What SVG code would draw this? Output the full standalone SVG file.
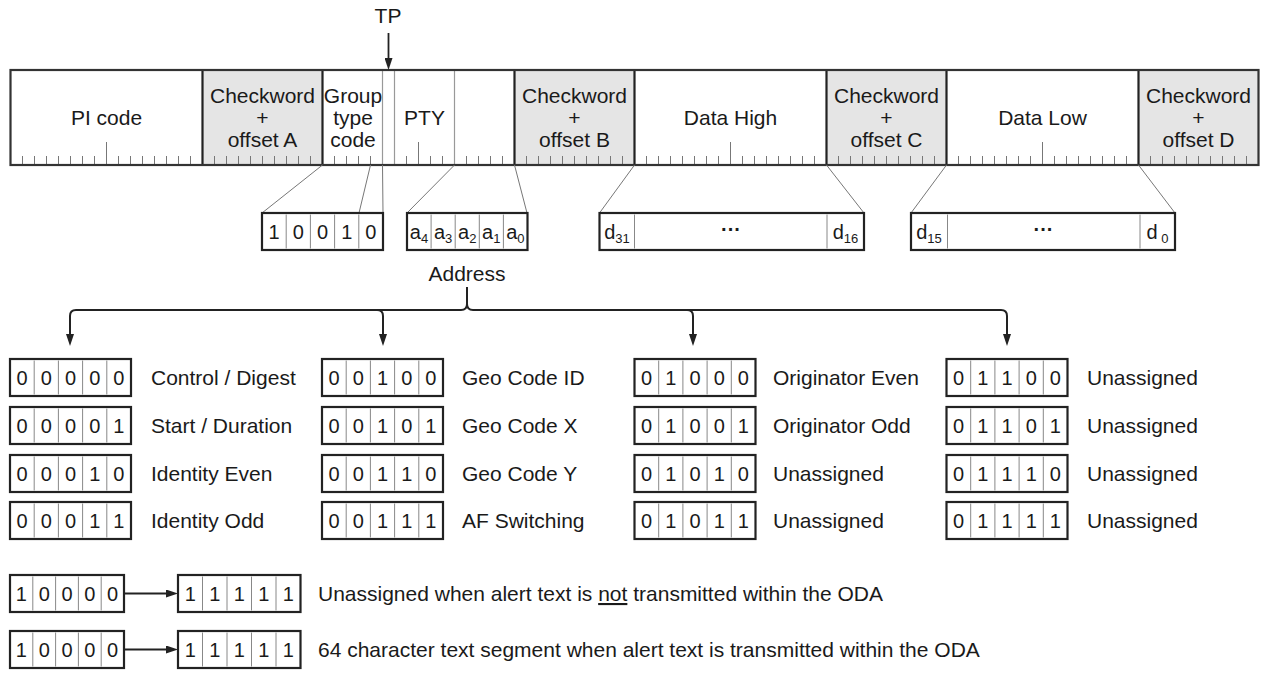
<svg xmlns="http://www.w3.org/2000/svg" xmlns:xlink="http://www.w3.org/1999/xlink" width="1261" height="681" viewBox="0 0 1261 681">
<style>
.t{font-family:"Liberation Sans",Arial,sans-serif;font-size:21px;fill:#1a1a1a}
.d{font-family:"Liberation Sans",Arial,sans-serif;font-size:20px;fill:#1a1a1a;text-anchor:middle}
.c{text-anchor:middle}
.sub{font-size:13px}
.box{fill:#fff;stroke:#222;stroke-width:2.2}
.div{stroke:#888;stroke-width:1;fill:none}
.gray{fill:#e5e5e5}
.tick{stroke:#777;stroke-width:1;fill:none}
.thin{stroke:#999;stroke-width:1.2;fill:none}
.major{stroke:#222;stroke-width:2.2;fill:none}
.call{stroke:#777;stroke-width:1;fill:none}
.conn{stroke:#222;stroke-width:2;fill:none}
</style>
<defs>
<marker id="ah" viewBox="0 0 12 8" refX="2" refY="4" markerWidth="12" markerHeight="8" markerUnits="userSpaceOnUse" orient="auto-start-reverse"><path d="M0,0L12,4L0,8z" fill="#222"/></marker>
<g id="b5"><rect width="121" height="37" class="box"/><path class="div" d="M24.2,1.5v34M48.4,1.5v34M72.6,1.5v34M96.8,1.5v34"/></g>
</defs>
<rect width="1261" height="681" fill="#fff"/>

<g id="tp">
<text class="t c" x="388" y="23">TP</text>
</g>

<g id="block-bar">
<rect x="10.5" y="70" width="1248" height="95" fill="#fff"/>
<rect class="gray" x="202.5" y="70" width="120" height="95"/>
<rect class="gray" x="514.5" y="70" width="120" height="95"/>
<rect class="gray" x="826.5" y="70" width="120" height="95"/>
<rect class="gray" x="1138.5" y="70" width="120" height="95"/>
<path class="tick" d="M22.5,156v9M34.5,156v9M46.5,156v9M58.5,156v9M70.5,156v9M82.5,156v9M94.5,156v9M106.5,142v23M118.5,156v9M130.5,156v9M142.5,156v9M154.5,156v9M166.5,156v9M178.5,156v9M190.5,156v9
M214.5,156v9M226.5,156v9M238.5,156v9M250.5,156v9M262.5,156v9M274.5,156v9M286.5,156v9M298.5,156v9M310.5,156v9
M334.5,156v9M346.5,156v9M358.5,156v9M370.5,156v9M406.5,156v9M418.5,142v23M430.5,156v9M442.5,156v9M466.5,156v9M478.5,156v9M490.5,156v9M502.5,156v9
M526.5,156v9M538.5,156v9M550.5,156v9M562.5,156v9M574.5,156v9M586.5,156v9M598.5,156v9M610.5,156v9M622.5,156v9
M646.5,156v9M658.5,156v9M670.5,156v9M682.5,156v9M694.5,156v9M706.5,156v9M718.5,156v9M730.5,142v23M742.5,156v9M754.5,156v9M766.5,156v9M778.5,156v9M790.5,156v9M802.5,156v9M814.5,156v9
M838.5,156v9M850.5,156v9M862.5,156v9M874.5,156v9M886.5,156v9M898.5,156v9M910.5,156v9M922.5,156v9M934.5,156v9
M958.5,156v9M970.5,156v9M982.5,156v9M994.5,156v9M1006.5,156v9M1018.5,156v9M1030.5,156v9M1042.5,142v23M1054.5,156v9M1066.5,156v9M1078.5,156v9M1090.5,156v9M1102.5,156v9M1114.5,156v9M1126.5,156v9
M1150.5,156v9M1162.5,156v9M1174.5,156v9M1186.5,156v9M1198.5,156v9M1210.5,156v9M1222.5,156v9M1234.5,156v9M1246.5,156v9"/>
<path class="thin" d="M382.5,70v95M394.5,70v95M454.5,70v95"/>
<path class="major" d="M202.5,70v95M322.5,70v95M514.5,70v95M634.5,70v95M826.5,70v95M946.5,70v95M1138.5,70v95"/>
<rect x="10.5" y="70" width="1248" height="95" fill="none" stroke="#333" stroke-width="2.2"/>
</g>

<g id="field-pi"><text class="t c" x="106.5" y="125">PI code</text></g>
<g id="field-cwa"><text class="t c" x="262.5" y="103">Checkword</text><text class="t c" x="262.5" y="125">+</text><text class="t c" x="262.5" y="147">offset A</text></g>
<g id="field-group"><text class="t c" x="353" y="103">Group</text><text class="t c" x="353" y="125">type</text><text class="t c" x="353" y="147">code</text></g>
<g id="field-pty"><text class="t c" x="424.5" y="125">PTY</text></g>
<g id="field-cwb"><text class="t c" x="574.5" y="103">Checkword</text><text class="t c" x="574.5" y="125">+</text><text class="t c" x="574.5" y="147">offset B</text></g>
<g id="field-dh"><text class="t c" x="730.5" y="125">Data High</text></g>
<g id="field-cwc"><text class="t c" x="886.5" y="103">Checkword</text><text class="t c" x="886.5" y="125">+</text><text class="t c" x="886.5" y="147">offset C</text></g>
<g id="field-dl"><text class="t c" x="1042.5" y="125">Data Low</text></g>
<g id="field-cwd"><text class="t c" x="1198.5" y="103">Checkword</text><text class="t c" x="1198.5" y="125">+</text><text class="t c" x="1198.5" y="147">offset D</text></g>

<g id="connectors">
<path class="call" d="M322.5,165L262,213M370.5,165L359,213M382.5,165L383,213M454.5,165L407,213M514.5,165L527,213M634.5,165L599.5,213M826.5,165L864,213M946.5,165L911,213M1138.5,165L1175,213"/>
<path d="M388.5,33V60" stroke="#222" stroke-width="1.8" fill="none" marker-end="url(#ah)"/>
<path class="conn" d="M467,287V304"/>
<path class="conn" d="M70,336V316Q70,310 76,310H461Q467,310 467,304Q467,310 473,310H1001Q1007,310 1007,316V336" marker-start="url(#ah)" marker-end="url(#ah)"/>
<path class="conn" d="M377,310Q383,310 383,316V336" marker-end="url(#ah)"/>
<path class="conn" d="M687,310Q693,310 693,316V336" marker-end="url(#ah)"/>
<path class="conn" d="M124,593.5H168" marker-end="url(#ah)"/>
<path class="conn" d="M124,649.5H168" marker-end="url(#ah)"/>
</g>

<g id="box-group">
<use xlink:href="#b5" x="262" y="213"/>
<text class="d" y="239"><tspan x="274.1">1</tspan><tspan x="298.3">0</tspan><tspan x="322.5">0</tspan><tspan x="346.7">1</tspan><tspan x="370.9">0</tspan></text>
</g>

<g id="box-address">
<rect x="407" y="213" width="120.5" height="37" class="box"/>
<path class="div" d="M431.1,214.5v34M455.2,214.5v34M479.3,214.5v34M503.4,214.5v34"/>
<text class="d" x="419" y="239">a<tspan class="sub" dy="4">4</tspan></text>
<text class="d" x="443.1" y="239">a<tspan class="sub" dy="4">3</tspan></text>
<text class="d" x="467.2" y="239">a<tspan class="sub" dy="4">2</tspan></text>
<text class="d" x="491.3" y="239">a<tspan class="sub" dy="4">1</tspan></text>
<text class="d" x="515.4" y="239">a<tspan class="sub" dy="4">0</tspan></text>
<text class="t c" x="467" y="281">Address</text>
</g>

<g id="box-datahigh">
<rect x="599.5" y="213" width="264.5" height="37" class="box"/>
<path class="div" d="M634.5,214.5v34M827,214.5v34"/>
<text class="d" x="617" y="239">d<tspan class="sub" dy="4">31</tspan></text>
<text class="d" x="731" y="236" font-weight="bold">···</text>
<text class="d" x="845.5" y="239">d<tspan class="sub" dy="4">16</tspan></text>
</g>

<g id="box-datalow">
<rect x="911" y="213" width="264" height="37" class="box"/>
<path class="div" d="M947.5,214.5v34M1140,214.5v34"/>
<text class="d" x="929" y="239">d<tspan class="sub" dy="4">15</tspan></text>
<text class="d" x="1043.5" y="236" font-weight="bold">···</text>
<text class="d" x="1157.5" y="239">d<tspan class="sub" dy="4"> 0</tspan></text>
</g>

<g id="row-00000"><use xlink:href="#b5" x="10" y="359"/><text class="d" y="385"><tspan x="22.1">0</tspan><tspan x="46.3">0</tspan><tspan x="70.5">0</tspan><tspan x="94.7">0</tspan><tspan x="118.9">0</tspan></text><text class="t" x="151" y="385">Control / Digest</text></g>
<g id="row-00001"><use xlink:href="#b5" x="10" y="407"/><text class="d" y="433"><tspan x="22.1">0</tspan><tspan x="46.3">0</tspan><tspan x="70.5">0</tspan><tspan x="94.7">0</tspan><tspan x="118.9">1</tspan></text><text class="t" x="151" y="433">Start / Duration</text></g>
<g id="row-00010"><use xlink:href="#b5" x="10" y="455"/><text class="d" y="481"><tspan x="22.1">0</tspan><tspan x="46.3">0</tspan><tspan x="70.5">0</tspan><tspan x="94.7">1</tspan><tspan x="118.9">0</tspan></text><text class="t" x="151" y="481">Identity Even</text></g>
<g id="row-00011"><use xlink:href="#b5" x="10" y="502"/><text class="d" y="528"><tspan x="22.1">0</tspan><tspan x="46.3">0</tspan><tspan x="70.5">0</tspan><tspan x="94.7">1</tspan><tspan x="118.9">1</tspan></text><text class="t" x="151" y="528">Identity Odd</text></g>

<g id="row-00100"><use xlink:href="#b5" x="322" y="359"/><text class="d" y="385"><tspan x="334.1">0</tspan><tspan x="358.3">0</tspan><tspan x="382.5">1</tspan><tspan x="406.7">0</tspan><tspan x="430.9">0</tspan></text><text class="t" x="462" y="385">Geo Code ID</text></g>
<g id="row-00101"><use xlink:href="#b5" x="322" y="407"/><text class="d" y="433"><tspan x="334.1">0</tspan><tspan x="358.3">0</tspan><tspan x="382.5">1</tspan><tspan x="406.7">0</tspan><tspan x="430.9">1</tspan></text><text class="t" x="462" y="433">Geo Code X</text></g>
<g id="row-00110"><use xlink:href="#b5" x="322" y="455"/><text class="d" y="481"><tspan x="334.1">0</tspan><tspan x="358.3">0</tspan><tspan x="382.5">1</tspan><tspan x="406.7">1</tspan><tspan x="430.9">0</tspan></text><text class="t" x="462" y="481">Geo Code Y</text></g>
<g id="row-00111"><use xlink:href="#b5" x="322" y="502"/><text class="d" y="528"><tspan x="334.1">0</tspan><tspan x="358.3">0</tspan><tspan x="382.5">1</tspan><tspan x="406.7">1</tspan><tspan x="430.9">1</tspan></text><text class="t" x="462" y="528">AF Switching</text></g>

<g id="row-01000"><use xlink:href="#b5" x="634.5" y="359"/><text class="d" y="385"><tspan x="646.6">0</tspan><tspan x="670.8">1</tspan><tspan x="695">0</tspan><tspan x="719.2">0</tspan><tspan x="743.4">0</tspan></text><text class="t" x="773" y="385">Originator Even</text></g>
<g id="row-01001"><use xlink:href="#b5" x="634.5" y="407"/><text class="d" y="433"><tspan x="646.6">0</tspan><tspan x="670.8">1</tspan><tspan x="695">0</tspan><tspan x="719.2">0</tspan><tspan x="743.4">1</tspan></text><text class="t" x="773" y="433">Originator Odd</text></g>
<g id="row-01010"><use xlink:href="#b5" x="634.5" y="455"/><text class="d" y="481"><tspan x="646.6">0</tspan><tspan x="670.8">1</tspan><tspan x="695">0</tspan><tspan x="719.2">1</tspan><tspan x="743.4">0</tspan></text><text class="t" x="773" y="481">Unassigned</text></g>
<g id="row-01011"><use xlink:href="#b5" x="634.5" y="502"/><text class="d" y="528"><tspan x="646.6">0</tspan><tspan x="670.8">1</tspan><tspan x="695">0</tspan><tspan x="719.2">1</tspan><tspan x="743.4">1</tspan></text><text class="t" x="773" y="528">Unassigned</text></g>

<g id="row-01100"><use xlink:href="#b5" x="946.5" y="359"/><text class="d" y="385"><tspan x="958.6">0</tspan><tspan x="982.8">1</tspan><tspan x="1007">1</tspan><tspan x="1031.2">0</tspan><tspan x="1055.4">0</tspan></text><text class="t" x="1087" y="385">Unassigned</text></g>
<g id="row-01101"><use xlink:href="#b5" x="946.5" y="407"/><text class="d" y="433"><tspan x="958.6">0</tspan><tspan x="982.8">1</tspan><tspan x="1007">1</tspan><tspan x="1031.2">0</tspan><tspan x="1055.4">1</tspan></text><text class="t" x="1087" y="433">Unassigned</text></g>
<g id="row-01110"><use xlink:href="#b5" x="946.5" y="455"/><text class="d" y="481"><tspan x="958.6">0</tspan><tspan x="982.8">1</tspan><tspan x="1007">1</tspan><tspan x="1031.2">1</tspan><tspan x="1055.4">0</tspan></text><text class="t" x="1087" y="481">Unassigned</text></g>
<g id="row-01111"><use xlink:href="#b5" x="946.5" y="502"/><text class="d" y="528"><tspan x="958.6">0</tspan><tspan x="982.8">1</tspan><tspan x="1007">1</tspan><tspan x="1031.2">1</tspan><tspan x="1055.4">1</tspan></text><text class="t" x="1087" y="528">Unassigned</text></g>

<g id="range-a-start">
<rect x="10" y="575" width="114" height="37" class="box"/>
<path class="div" d="M32.8,576.5v34M55.6,576.5v34M78.4,576.5v34M101.2,576.5v34"/>
<text class="d" y="601"><tspan x="21.4">1</tspan><tspan x="44.2">0</tspan><tspan x="67">0</tspan><tspan x="89.8">0</tspan><tspan x="112.6">0</tspan></text>
</g>
<g id="range-a-end">
<rect x="178" y="575" width="122.5" height="37" class="box"/>
<path class="div" d="M202.5,576.5v34M227,576.5v34M251.5,576.5v34M276,576.5v34"/>
<text class="d" y="601"><tspan x="190.25">1</tspan><tspan x="214.75">1</tspan><tspan x="239.25">1</tspan><tspan x="263.75">1</tspan><tspan x="288.25">1</tspan></text>
<text class="t" x="318" y="601">Unassigned when alert text is <tspan text-decoration="underline">not</tspan> transmitted within the ODA</text>
</g>
<g id="range-b-start">
<rect x="10" y="631" width="114" height="37" class="box"/>
<path class="div" d="M32.8,632.5v34M55.6,632.5v34M78.4,632.5v34M101.2,632.5v34"/>
<text class="d" y="657"><tspan x="21.4">1</tspan><tspan x="44.2">0</tspan><tspan x="67">0</tspan><tspan x="89.8">0</tspan><tspan x="112.6">0</tspan></text>
</g>
<g id="range-b-end">
<rect x="178" y="631" width="122.5" height="37" class="box"/>
<path class="div" d="M202.5,632.5v34M227,632.5v34M251.5,632.5v34M276,632.5v34"/>
<text class="d" y="657"><tspan x="190.25">1</tspan><tspan x="214.75">1</tspan><tspan x="239.25">1</tspan><tspan x="263.75">1</tspan><tspan x="288.25">1</tspan></text>
<text class="t" x="318" y="657">64 character text segment when alert text is transmitted within the ODA</text>
</g>
</svg>
